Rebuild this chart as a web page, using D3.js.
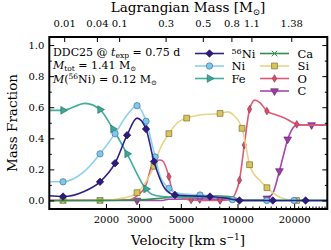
<!DOCTYPE html>
<html lang="en">
<head>
<meta charset="UTF-8">
<title>DDC25 abundances</title>
<script src="https://d3js.org/d3.v7.min.js" charset="utf-8"></script>
<style>
    body { margin: 0; background: #fff; }
    svg text { font-family: "DejaVu Serif", "Liberation Serif", serif; fill: #000; }
    .axis path { display: none; }
    .axis line { stroke: #000; stroke-width: 1; }
    .axis text { font-family: "DejaVu Serif", serif; font-size: 10px; }
</style>
</head>
<body>
<script>
    // profiles: [velocity km/s, mass fraction, marker?]
    var ni56 = [[1000,0.03],[1183,0.025,1],[1530,0.058],[1860,0.12,1],[2236,0.24,1],[2590,0.42,1],[2925,0.53],
        [3265,0.46,1],[3600,0.25,1],[3870,0.14],[4150,0.07],[4650,0.035,1],[5500,0.03],[7140,0.025,1],
        [8600,0.015],[9700,0.004],[10240,0,1],[15400,0,1],[23000,0,1],[30000,0]];
    var ni = [[1000,0.12],[1183,0.12,1],[1530,0.185],[1860,0.30,1],[2236,0.43,1],[2590,0.55],[2925,0.61,1],
        [3265,0.51,1],[3650,0.28,1],[3870,0.16],[4320,0.078,1],[4935,0.045],[6320,0.035,1],[8080,0.02],
        [9400,0.005,1],[10240,0],[14300,0,1],[20000,0,1],[30000,0]];
    var fe = [[1000,0.58],[1183,0.58,1],[1550,0.625],[1860,0.585,1],[2180,0.46,1],[2590,0.30,1],[3265,0.074,1],
        [3500,0.04],[4000,0.025],[5000,0.02],[7000,0.02],[9000,0.02],[9800,0.01],[10500,0],[30000,0]];
    var ca = [[1000,0],[1183,0,1],[1860,0,1],[2925,0.003],[3600,0.01],[4300,0.02],[5000,0.028],[7000,0.03],
        [9000,0.025],[10000,0.01],[11000,0],[30000,0]];
    var si = [[1000,0],[1183,0,1],[1860,0,1],[2590,0.02],[2925,0.05,1],[3265,0.12],[3600,0.22,1],[3870,0.33],
        [4320,0.43,1],[4800,0.50],[5370,0.53,1],[6300,0.55],[8080,0.56,1],[8900,0.57],[9500,0.55],
        [10570,0.464,1],[11000,0.37],[11590,0.23,1],[12000,0.185],[13150,0.13],[14330,0.082,1],[16000,0.035],
        [18000,0.008],[20600,0,1],[30000,0]];
    var ox = [[1000,0],[2600,0.003],[2925,0.03],[3265,0.10],[3520,0.23],[3650,0.25],[3870,0.26],[4000,0.255],
        [4320,0.153,1],[4490,0.068],[4800,0.03],[5670,0.003,1],[6300,0],[8080,0,1],[9120,0.005],[9700,0.04],
        [10240,0.13,1],[10870,0.357,1],[11590,0.587,1],[12370,0.646],[13150,0.63],[14330,0.575,1],
        [16090,0.55],[18000,0.528],[20650,0.49,1],[23000,0.485],[30000,0.485]];
    var cc = [[1000,0],[2925,0,1],[4000,0],[4300,0.008],[6300,0.01,1],[8080,0.008,1],[11000,0.003],
        [13500,0.003],[14330,0.014,1],[15400,0.046],[16700,0.19,1],[17840,0.325],[18480,0.394,1],
        [19380,0.453],[20650,0.486],[24750,0.486,1],[30000,0.486]];

    // axis ticks
    var velMajor = [2000, 3000, 5000, 10000, 20000];
    var velMinor = [4000, 6000, 7000, 8000, 9000, 11000, 12000, 13000, 14000, 15000, 16000, 17000, 18000, 19000,
        21000, 22000, 23000, 24000, 25000, 26000, 27000, 28000, 29000];
    var massLabels = ['0.01', '0.04', '0.1', '0.3', '0.5', '0.8', '1.1', '1.38'];
    var massVel = [1200, 1790, 2350, 4150, 6540, 9280, 11850, 19300];
    var fracMajor = [0, 0.2, 0.4, 0.6, 0.8, 1.0];
    var fracMinor = [0.1, 0.3, 0.5, 0.7, 0.9];

    var L = 49.3, R = 327.3, T = 37, B = 209;
    var svg = d3.select('body').append('svg').attr('width', 331).attr('height', 250);
    var x = d3.scaleLog().domain([1000, 30000]).range([L, R]);
    var y = d3.scaleLinear().domain([-0.055, 1.052]).range([B, T]);

    svg.append('clipPath').attr('id', 'plot').append('rect')
        .attr('x', L).attr('y', T).attr('width', R - L).attr('height', B - T);

    var rot = function (sym, a) { return {sym: sym, rot: a}; };
    var series = [
        {name: 'C', data: cc, line: '#a846b2', fill: '#a13ba8', edge: '#5c1f62', m: rot(d3.symbolTriangle, 180), size: 26},
        {name: 'O', data: ox, line: '#dc5c77', fill: '#d6506c', edge: '#8b2a3f', m: rot(d3.symbolDiamond, 0), size: 17},
        {name: 'Si', data: si, line: '#e8d485', fill: '#d8c560', edge: '#6b5e20', m: rot(d3.symbolSquare, 0), size: 34},
        {name: 'Ca', data: ca, line: '#2e8f4e', fill: 'none', edge: '#2e8f4e', m: rot(d3.symbolX, 0), size: 22},
        {name: 'Fe', data: fe, line: '#3fae9a', fill: '#3aa896', edge: '#1f6a60', m: rot(d3.symbolTriangle, 90), size: 26},
        {name: 'Ni', data: ni, line: '#8dd1f0', fill: '#80c8ea', edge: '#3a5f8f', m: rot(d3.symbolCircle, 0), size: 32},
        {name: '56Ni', data: ni56, line: '#2e2188', fill: '#2d1b80', edge: '#160c4a', m: rot(d3.symbolSquare, 45), size: 28}
    ];

    var line = d3.line().x(function (d) { return x(d[0]); }).y(function (d) { return y(d[1]); })
        .curve(d3.curveMonotoneX);

    var plot = svg.append('g').attr('clip-path', 'url(#plot)');
    series.forEach(function (s) {
        plot.append('path').attr('d', line(s.data)).attr('fill', 'none')
            .attr('stroke', s.line).attr('stroke-width', 1.6);
        plot.selectAll(null).data(s.data.filter(function (d) { return d[2]; })).enter()
            .append('path')
            .attr('d', d3.symbol().type(s.m.sym).size(s.size))
            .attr('transform', function (d) { return 'translate(' + x(d[0]) + ',' + y(d[1]) + ') rotate(' + s.m.rot + ')'; })
            .attr('fill', s.fill).attr('stroke', s.edge).attr('stroke-width', s.fill === 'none' ? 1 : 0.6);
    });

    // axes, ticks pointing inward
    svg.append('g').attr('class', 'axis').attr('transform', 'translate(0,' + B + ')')
        .call(d3.axisBottom(x).tickValues(velMinor).tickSize(-2.5).tickFormat(''));
    svg.append('g').attr('class', 'axis').attr('transform', 'translate(0,' + B + ')')
        .call(d3.axisBottom(x).tickValues(velMajor).tickSize(-5).tickPadding(7).tickFormat(d3.format('d')));
    svg.append('g').attr('class', 'axis').attr('transform', 'translate(0,' + T + ')')
        .call(d3.axisTop(x).tickValues(massVel).tickSize(-5).tickPadding(10.5)
            .tickFormat(function (d, i) { return massLabels[i]; }));
    svg.append('g').attr('class', 'axis').attr('transform', 'translate(' + L + ',0)')
        .call(d3.axisLeft(y).tickValues(fracMajor).tickSize(-5).tickPadding(5).tickFormat(d3.format('.1f')));
    svg.append('g').attr('class', 'axis').attr('transform', 'translate(' + L + ',0)')
        .call(d3.axisLeft(y).tickValues(fracMinor).tickSize(-2.5).tickFormat(''));
    svg.append('g').attr('class', 'axis').attr('transform', 'translate(' + R + ',0)')
        .call(d3.axisRight(y).tickValues(fracMajor).tickSize(-5).tickFormat(''));
    svg.append('g').attr('class', 'axis').attr('transform', 'translate(' + R + ',0)')
        .call(d3.axisRight(y).tickValues(fracMinor).tickSize(-2.5).tickFormat(''));

    svg.append('rect').attr('x', L).attr('y', T).attr('width', R - L).attr('height', B - T)
        .attr('fill', 'none').attr('stroke', '#000').attr('stroke-width', 2);

    // axis titles
    var t = svg.append('text').attr('x', 188).attr('y', 245).attr('text-anchor', 'middle').style('font-size', '13.5px');
    t.append('tspan').text('Velocity [km s');
    t.append('tspan').attr('dy', -5).style('font-size', '9px').text('\u22121');
    t.append('tspan').attr('dy', 5).text(']');

    t = svg.append('text').attr('x', 188).attr('y', 12).attr('text-anchor', 'middle').style('font-size', '13.5px');
    t.append('tspan').text('Lagrangian Mass [M');
    t.append('tspan').attr('dy', 3).style('font-size', '8.5px').text('\u2299');
    t.append('tspan').attr('dy', -3).text(']');

    svg.append('text').attr('transform', 'translate(16.5,123) rotate(-90)').attr('text-anchor', 'middle')
        .style('font-size', '13.5px').text('Mass Fraction');

    // model info
    var fs = '11px';
    t = svg.append('text').attr('x', 53).attr('y', 56).style('font-size', fs);
    t.append('tspan').text('DDC25 @ ');
    t.append('tspan').style('font-style', 'italic').text('t');
    t.append('tspan').attr('dy', 2).style('font-size', '7.5px').text('exp');
    t.append('tspan').attr('dy', -2).text(' = 0.75 d');

    t = svg.append('text').attr('x', 53).attr('y', 69).style('font-size', fs);
    t.append('tspan').style('font-style', 'italic').text('M');
    t.append('tspan').attr('dy', 2).style('font-size', '7.5px').text('tot');
    t.append('tspan').attr('dy', -2).text(' = 1.41 M');
    t.append('tspan').attr('dy', 2).style('font-size', '7px').text('\u2299');

    t = svg.append('text').attr('x', 53).attr('y', 82.5).style('font-size', fs);
    t.append('tspan').style('font-style', 'italic').text('M');
    t.append('tspan').text('(');
    t.append('tspan').attr('dy', -3.5).style('font-size', '7.5px').text('56');
    t.append('tspan').attr('dy', 3.5).text('Ni) = 0.12 M');
    t.append('tspan').attr('dy', 2).style('font-size', '7px').text('\u2299');

    // legend
    var legendPos = {'56Ni': [0, 0], 'Ni': [0, 1], 'Fe': [0, 2], 'Ca': [1, 0], 'Si': [1, 1], 'O': [1, 2], 'C': [1, 3]};
    var colX = [195, 260], textX = [231.5, 297.5], rowY = [53.5, 66, 78.5, 91];
    series.forEach(function (s) {
        var p = legendPos[s.name], lx = colX[p[0]], ly = rowY[p[1]];
        svg.append('line').attr('x1', lx).attr('x2', lx + 29).attr('y1', ly).attr('y2', ly)
            .attr('stroke', s.line).attr('stroke-width', 1.6);
        svg.append('path').attr('d', d3.symbol().type(s.m.sym).size(s.size))
            .attr('transform', 'translate(' + (lx + 14.5) + ',' + ly + ') rotate(' + s.m.rot + ')')
            .attr('fill', s.fill).attr('stroke', s.edge).attr('stroke-width', s.fill === 'none' ? 1 : 0.6);
        var lt = svg.append('text').attr('x', textX[p[0]]).attr('y', ly + 4).style('font-size', '11.5px');
        if (s.name === '56Ni') {
            lt.append('tspan').attr('dy', -3.5).style('font-size', '8px').text('56');
            lt.append('tspan').attr('dy', 3.5).text('Ni');
        } else {
            lt.text(s.name);
        }
    });
</script>
</body>
</html>
